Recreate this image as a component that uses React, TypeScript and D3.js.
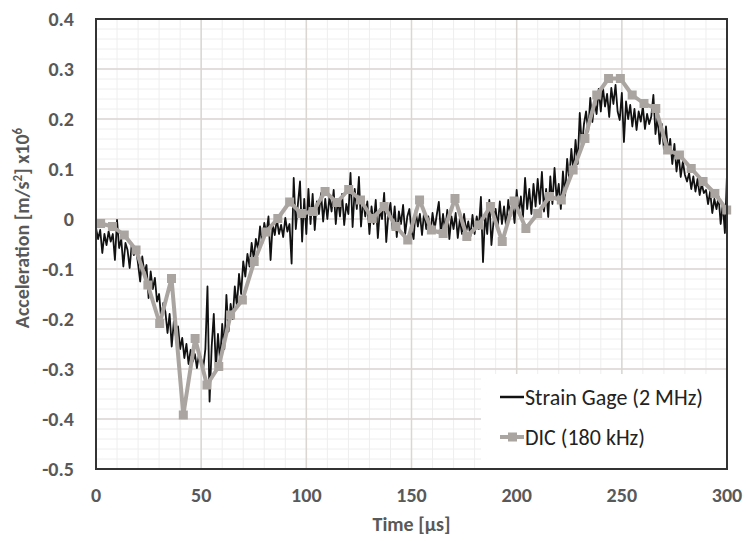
import * as d3 from 'd3';

// Strain gage trace, 1 µs spacing from t = 0 (values in m/s² x10^6)
const SG_T0 = 0;
const SG_DT = 1;
const SG_VALUES = [
  -0.018, -0.040, -0.022, -0.068, -0.030, -0.052, -0.025, -0.045, -0.030, -0.082,
  -0.002, -0.058, -0.040, -0.095, -0.048, -0.062, -0.098, -0.050, -0.072, -0.058,
  -0.090, -0.125, -0.075, -0.108, -0.092, -0.158, -0.105, -0.140, -0.118, -0.165,
  -0.150, -0.200, -0.168, -0.186, -0.228, -0.190, -0.255, -0.205, -0.235, -0.215,
  -0.260, -0.238, -0.278, -0.250, -0.290, -0.262, -0.285, -0.270, -0.298, -0.268,
  -0.280, -0.298, -0.260, -0.135, -0.365, -0.255, -0.190, -0.300, -0.230, -0.285,
  -0.210, -0.260, -0.152, -0.225, -0.170, -0.200, -0.135, -0.175, -0.110, -0.150,
  -0.085, -0.115, -0.070, -0.095, -0.048, -0.080, -0.040, -0.060, -0.015, -0.050,
  -0.008, -0.030, 0.005, -0.082, -0.010, -0.032, 0.000, -0.030, -0.012, -0.036,
  0.002, -0.025, -0.010, -0.089, 0.082, -0.020, 0.030, 0.075, -0.045, 0.040,
  -0.030, 0.060, -0.010, 0.050, -0.022, 0.035, 0.010, 0.052, -0.005, 0.040,
  0.000, 0.045, 0.015, 0.058, -0.010, 0.040, 0.005, 0.050, -0.012, 0.030,
  0.010, 0.092, -0.016, 0.060, 0.020, 0.084, -0.015, 0.040, 0.005, 0.035,
  -0.030, 0.025, -0.010, 0.038, -0.038, 0.020, 0.000, 0.052, -0.046, 0.010,
  0.032, -0.020, 0.025, -0.036, 0.015, -0.010, 0.028, -0.030, 0.005, 0.020,
  -0.025, -0.040, 0.018, -0.015, 0.010, -0.032, 0.015, -0.020, 0.005, -0.028,
  0.012, -0.020, 0.008, 0.034, -0.030, 0.010, -0.025, 0.018, -0.040, 0.005,
  -0.020, 0.012, -0.038, 0.000, -0.030, 0.010, -0.025, -0.005, -0.035, 0.008,
  -0.030, 0.005, -0.020, 0.044, -0.086, 0.010, -0.030, 0.038, -0.052, -0.005,
  0.020, -0.015, 0.035, -0.010, 0.025, -0.016, 0.038, 0.005, 0.030, -0.008,
  0.058, 0.010, 0.045, 0.004, 0.082, 0.020, 0.060, 0.010, 0.070, 0.025,
  0.080, 0.030, 0.094, 0.015, 0.060, 0.004, 0.085, 0.030, 0.102, 0.040,
  0.070, 0.020, 0.095, 0.045, 0.120, 0.080, 0.140, 0.095, 0.158, 0.110,
  0.212, 0.144, 0.190, 0.215, 0.175, 0.242, 0.194, 0.235, 0.210, 0.260,
  0.215, 0.264, 0.225, 0.250, 0.204, 0.262, 0.230, 0.268, 0.215, 0.198,
  0.252, 0.154, 0.235, 0.200, 0.228, 0.185, 0.220, 0.178, 0.215, 0.195,
  0.225, 0.180, 0.210, 0.190, 0.205, 0.248, 0.170, 0.204, 0.150, 0.190,
  0.140, 0.185, 0.132, 0.160, 0.110, 0.150, 0.095, 0.130, 0.084, 0.115,
  0.088, 0.075, 0.092, 0.060, 0.085, 0.055, 0.080, 0.048, 0.070, 0.052,
  0.058, 0.030, 0.055, 0.012, 0.040, 0.020, 0.045, -0.010, 0.030, -0.028,
  0.090,
];

// DIC samples (~180 kHz)
const DIC_T0 = 2.2;
const DIC_DT = 5.616;
const DIC_VALUES = [
  -0.009, -0.015, -0.032, -0.062, -0.132, -0.209, -0.119, -0.392, -0.239, -0.332,
  -0.295, -0.192, -0.162, -0.085, -0.026, 0.001, 0.034, 0.011, 0.015, 0.055,
  0.033, 0.059, 0.038, 0.001, 0.025, -0.015, -0.042, 0.038, -0.022, -0.029,
  0.041, -0.035, -0.012, 0.025, -0.045, 0.036, -0.019, 0.011, 0.045, 0.038,
  0.098, 0.161, 0.248, 0.281, 0.281, 0.248, 0.231, 0.221, 0.138, 0.128,
  0.101, 0.075, 0.051, 0.018,
];

const X_TICKS = [0, 50, 100, 150, 200, 250, 300];
const X_MINOR_STEP = 10;
const Y_TICKS = [-0.5, -0.4, -0.3, -0.2, -0.1, 0, 0.1, 0.2, 0.3, 0.4];
const Y_MINOR_STEP = 0.02;
const SERIES_NAMES = ['Strain Gage (2 MHz)', 'DIC (180 kHz)'];

const W = 750;
const H = 541;
const margin = { top: 19, right: 23, bottom: 72, left: 96 };
const FONT = "Carlito, Calibri, 'Liberation Sans', Arial, sans-serif";
const LABEL = '#595959';
const DIC_COLOR = '#aaa5a0';

export default function App() {
  const iw = W - margin.left - margin.right;
  const ih = H - margin.top - margin.bottom;
  const x = d3.scaleLinear().domain([0, 300]).range([0, iw]);
  const y = d3.scaleLinear().domain([-0.5, 0.4]).range([ih, 0]);

  const sg = SG_VALUES.map((v, i) => ({ t: SG_T0 + i * SG_DT, v }));
  const dic = DIC_VALUES.map((v, i) => ({ t: DIC_T0 + i * DIC_DT, v }));
  const line = d3.line<{ t: number; v: number }>().x(d => x(d.t)).y(d => y(d.v));

  const xMinor = d3.range(0, 300 + 1e-9, X_MINOR_STEP);
  const yMinor = d3.range(-0.5, 0.4 + 1e-9, Y_MINOR_STEP);
  const fmt = (v: number) => (Math.abs(v) < 1e-9 ? '0' : v.toFixed(1));

  const lgX = 481 - margin.left;
  const lgY = 374 - margin.top;

  return (
    <svg width={W} height={H} style={{ position: 'absolute', left: 0, top: 0, background: '#fff' }} fontFamily={FONT}>
      <g transform={`translate(${margin.left},${margin.top})`}>
        {/* minor grid */}
        {xMinor.map(t => (
          <line key={`xm${t}`} x1={x(t)} x2={x(t)} y1={0} y2={ih} stroke="#eeeeee" strokeWidth={1} />
        ))}
        {yMinor.map(v => (
          <line key={`ym${v.toFixed(2)}`} x1={0} x2={iw} y1={y(v)} y2={y(v)} stroke="#eeeeee" strokeWidth={1} />
        ))}
        {/* major grid */}
        {X_TICKS.map(t => (
          <line key={`xg${t}`} x1={x(t)} x2={x(t)} y1={0} y2={ih} stroke="#dad6d2" strokeWidth={1.5} />
        ))}
        {Y_TICKS.map(v => (
          <line key={`yg${v}`} x1={0} x2={iw} y1={y(v)} y2={y(v)} stroke="#dad6d2" strokeWidth={1.5} />
        ))}

        <path d={line(sg) || ''} fill="none" stroke="#111" strokeWidth={1.8} strokeLinejoin="round" />
        <path d={line(dic) || ''} fill="none" stroke={DIC_COLOR} strokeWidth={4} strokeLinejoin="round" />
        {dic.map((d, i) => (
          <rect key={i} x={x(d.t) - 4.5} y={y(d.v) - 4.5} width={9} height={9} fill={DIC_COLOR} />
        ))}

        {/* legend */}
        <rect x={lgX} y={lgY} width={iw - lgX} height={ih - lgY} fill="#fff" />
        <line x1={lgX + 19} x2={lgX + 43} y1={lgY + 23} y2={lgY + 23} stroke="#111" strokeWidth={2.5} />
        <text x={lgX + 44} y={lgY + 23} dy="0.35em" fontSize={22} fill="#222">{SERIES_NAMES[0]}</text>
        <line x1={lgX + 19} x2={lgX + 43} y1={lgY + 63} y2={lgY + 63} stroke={DIC_COLOR} strokeWidth={4} />
        <rect x={lgX + 27} y={lgY + 58.5} width={9} height={9} fill={DIC_COLOR} />
        <text x={lgX + 44} y={lgY + 63} dy="0.35em" fontSize={22} fill="#222">{SERIES_NAMES[1]}</text>

        {/* frame */}
        <rect x={0} y={0} width={iw} height={ih} fill="none" stroke="#333" strokeWidth={2} />

        {/* tick labels */}
        {Y_TICKS.map(v => (
          <text key={`yl${v}`} x={-22} y={y(v)} dy="0.35em" textAnchor="end" fontSize={20} fontWeight="bold" fill={LABEL}>
            {fmt(v)}
          </text>
        ))}
        {X_TICKS.map(t => (
          <text key={`xl${t}`} x={x(t)} y={ih + 26} dy="0.35em" textAnchor="middle" fontSize={20} fontWeight="bold" fill={LABEL}>
            {t}
          </text>
        ))}

        {/* axis titles */}
        <text x={iw / 2} y={ih + 55} dy="0.35em" textAnchor="middle" fontSize={20} fontWeight="bold" fill={LABEL}>
          Time [µs]
        </text>
        <text
          transform={`translate(${-74},${228 - margin.top}) rotate(-90)`}
          textAnchor="middle"
          dy="0.35em"
          fontSize={20}
          fontWeight="bold"
          fill={LABEL}
        >
          Acceleration [m/s<tspan dy="-7" fontSize={13}>2</tspan>
          <tspan dy="7">] x10</tspan>
          <tspan dy="-7" fontSize={13}>6</tspan>
        </text>
      </g>
    </svg>
  );
}
